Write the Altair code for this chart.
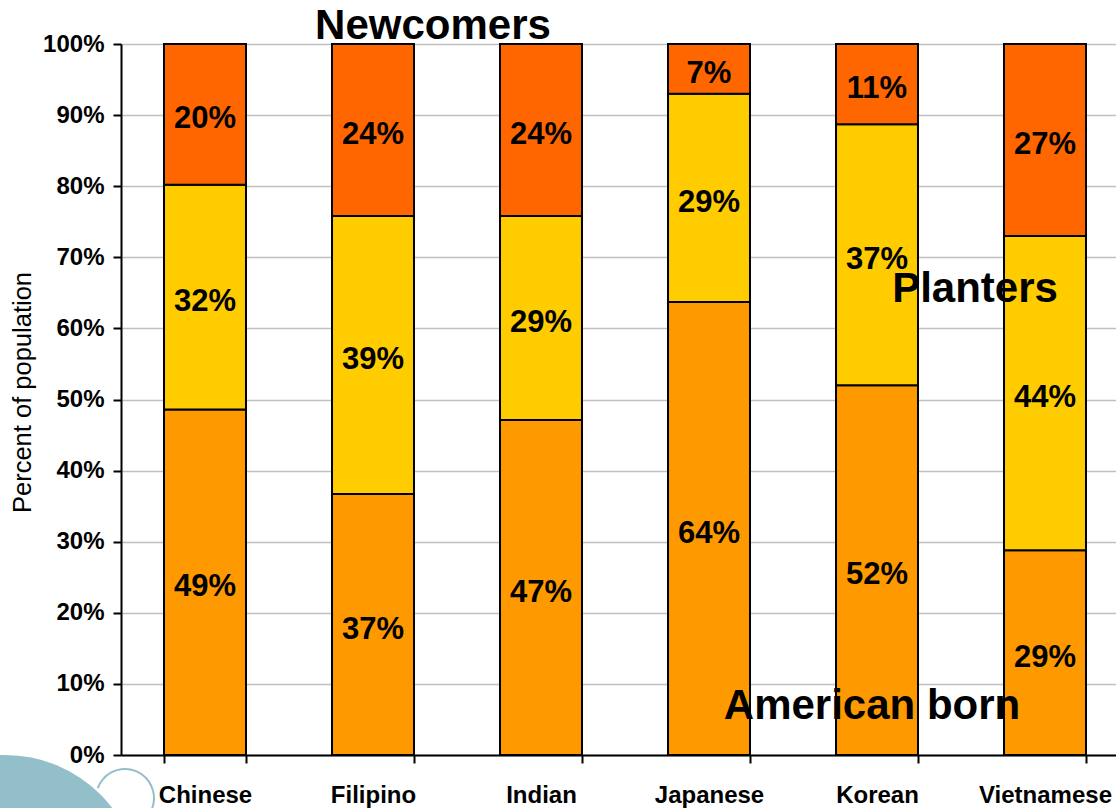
import altair as alt
import pandas as pd

groups = ["Chinese", "Filipino", "Indian", "Japanese", "Korean", "Vietnamese"]
american_born = [48.6, 36.7, 47.1, 63.7, 52.0, 28.8]
planters = [31.6, 39.1, 28.7, 29.3, 36.7, 44.2]
newcomers = [19.8, 24.2, 24.2, 7.0, 11.3, 27.0]
series = ["American born", "Planters", "Newcomers"]
colors = ["#FF9900", "#FFCC00", "#FF6600"]
y_ticks = [0, 10, 20, 30, 40, 50, 60, 70, 80, 90, 100]

rows = []
for i, g in enumerate(groups):
    lo = 0.0
    for s, vals in zip(series, [american_born, planters, newcomers]):
        v = vals[i]
        rows.append({"group": g, "series": s, "value": v, "lo": lo, "hi": lo + v,
                     "mid": lo + v / 2, "label": f"{round(v)}%"})
        lo += v
df = pd.DataFrame(rows)

FONT = "Liberation Sans"
LEFT, TOP = 121, 44

x_enc = alt.X("group:N", sort=groups, title=None,
              scale=alt.Scale(paddingInner=0.512, paddingOuter=0.256, range=[0, 1008]),
              axis=alt.Axis(labelAngle=0, labelFont=FONT, labelFontSize=24,
                            labelFontWeight="bold", labelColor="black",
                            labelPadding=20, tickBand="extent", tickSize=8,
                            tickColor="black", tickWidth=2, domainColor="black",
                            domainWidth=2, grid=False))
y_enc = alt.Y("lo:Q", title="Percent of population",
              scale=alt.Scale(domain=[0, 100], nice=False),
              axis=alt.Axis(values=y_ticks, labelExpr="datum.value + '%'",
                            labelFont=FONT, labelFontSize=24, labelFontWeight="bold",
                            labelColor="black", labelPadding=9, tickSize=8,
                            tickColor="black", tickWidth=2, domainColor="black",
                            domainWidth=2, grid=True, gridColor="#C0C0C0",
                            gridWidth=1.5, titleFont=FONT, titleFontSize=25.5,
                            titleFontWeight="normal", titleColor="black",
                            titlePadding=7, titleY=392 - TOP))

swoosh = alt.Chart(alt.Data(values=[{"k": 1}])).mark_arc(
    radius=135, theta=0, theta2=6.2832, color="#93BFCA"
).encode(x=alt.value(5 - LEFT), y=alt.value(890 - TOP))

curl = alt.Chart(alt.Data(values=[{"k": 1}])).mark_arc(
    radius=30, radius2=28, theta=5.061, theta2=9.4248, color="#93BFCA"
).encode(x=alt.value(125 - LEFT), y=alt.value(798 - TOP))

bars = alt.Chart(df).mark_bar(stroke="black", strokeWidth=2).encode(
    x=x_enc,
    y=y_enc,
    y2="hi:Q",
    color=alt.Color("series:N", scale=alt.Scale(domain=series, range=colors), legend=None),
)

labels = alt.Chart(df).mark_text(font=FONT, fontSize=31, fontWeight="bold",
                                 color="black", baseline="middle", dy=5).encode(
    x=alt.X("group:N", sort=groups),
    y=alt.Y("mid:Q"),
    text="label:N",
)

ann_names = ["Newcomers", "Planters", "American born"]
ann_df = pd.DataFrame({"name": ann_names})
ann_x = {"Newcomers": 433, "Planters": 975, "American born": 872}
ann_y = {"Newcomers": 39, "Planters": 302, "American born": 719}

annots = [
    alt.Chart(ann_df[ann_df.name == n]).mark_text(
        font=FONT, fontSize=42, fontWeight="bold", color="black",
        baseline="alphabetic", align="center"
    ).encode(text="name:N", x=alt.value(ann_x[n] - LEFT), y=alt.value(ann_y[n] - TOP))
    for n in ann_names
]

chart = alt.layer(bars, labels, *annots, swoosh, curl).properties(
    width=1116 - LEFT, height=711,
    autosize=alt.AutoSizeParams(type="none"),
    padding={"left": LEFT, "top": TOP, "right": 0, "bottom": 808 - TOP - 711},
).configure_view(stroke=None).configure(background="white")

chart.save("out.html", embed_options={"renderer": "svg", "actions": False})
